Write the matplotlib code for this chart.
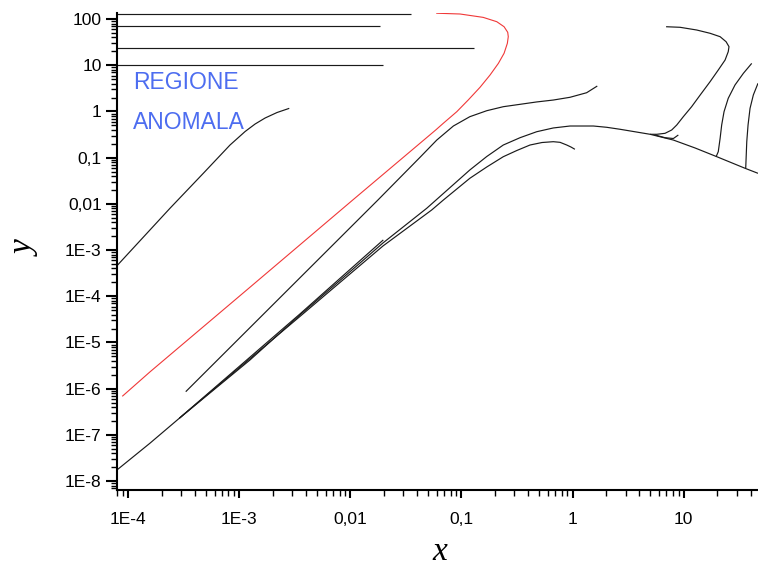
import matplotlib
matplotlib.use("Agg")
import matplotlib.pyplot as plt
from matplotlib.ticker import FixedLocator, FixedFormatter, LogLocator, NullFormatter

# ---------------- data ----------------
# horizontal lines near the top: level and right end
hline_levels = [129, 72, 24, 10]
hline_ends = [0.035, 0.0185, 0.129, 0.0197]
hline_start = 7.9e-5

# red curve
red_x = [8.93e-5, 1.57e-4, 1.25e-3, 0.0105, 0.0587, 0.0687, 0.0908, 0.115, 0.147,
         0.181, 0.215, 0.242, 0.259, 0.264, 0.261, 0.242, 0.208, 0.157, 0.0971, 0.060]
red_y = [6.95e-7, 2.30e-6, 1.57e-4, 0.0121, 0.398, 0.556, 0.99, 1.77, 3.34,
         6.17, 11.0, 18.2, 29.9, 41.6, 51.8, 68.4, 87.9, 109, 129, 134]

# upper-left curve
c3_x = [7.9e-5, 2.38e-4, 4.75e-4, 8.26e-4, 1.13e-3, 1.39e-3, 1.71e-3, 2.19e-3, 2.82e-3]
c3_y = [4.53e-4, 8.03e-3, 0.0459, 0.188, 0.369, 0.536, 0.723, 0.951, 1.17]

# middle curve
c4_x = [3.30e-4, 0.0177, 0.0424, 0.060, 0.0846, 0.119, 0.169, 0.238, 0.337,
        0.476, 0.671, 0.949, 1.34, 1.67]
c4_y = [8.6e-7, 0.0121, 0.102, 0.241, 0.485, 0.772, 1.04, 1.27, 1.43,
        1.61, 1.77, 2.03, 2.55, 3.56]

# main (long) curve
main_x = [7.94e-5, 1.57e-4, 2.89e-4, 1.25e-3, 3.52e-3, 9.93e-3, 0.0197, 0.0487,
          0.119, 0.169, 0.238, 0.337, 0.476, 0.671, 0.949, 1.54, 2.03,
          2.68, 4.99, 8.08, 12.7, 19.9, 35.7, 46.7]
main_y = [1.74e-8, 6.58e-8, 2.29e-7, 4.18e-6, 3.94e-5, 3.40e-4, 1.43e-3, 8.03e-3,
          0.0542, 0.106, 0.188, 0.271, 0.365, 0.44, 0.485, 0.485, 0.455,
          0.412, 0.321, 0.241, 0.162, 0.105, 0.059, 0.0459]

# lower curve (ends near x=1)
low_x = [2.89e-4, 3.52e-3, 0.0197, 0.054, 0.0687, 0.119, 0.169, 0.238, 0.315,
         0.414, 0.531, 0.671, 0.772, 0.887, 0.969, 1.05]
low_y = [2.29e-7, 3.66e-5, 1.23e-3, 7.38e-3, 0.0121, 0.0358, 0.0629, 0.105, 0.143,
         0.188, 0.213, 0.222, 0.215, 0.188, 0.17, 0.152]

# short curve inside the bundle
short_x = [2.89e-4, 3.52e-3, 0.0198]
short_y = [2.29e-7, 4.14e-5, 1.66e-3]

# right-hand loop curve
loop_x = [6.95, 9.28, 13.1, 17.3, 21.3, 24.1, 25.6, 25.2, 23.6, 20.5, 17.3,
          14.1, 11.8, 9.93, 8.67, 7.81, 6.80, 5.73, 4.99]
loop_y = [68.4, 66.5, 58.1, 49.3, 41.6, 32.4, 25.3, 19.7, 13.0, 7.91, 4.42,
          2.28, 1.27, 0.771, 0.51, 0.398, 0.337, 0.321, 0.321]

# small hook
hook_x = [5.53, 6.80, 8.08, 8.96]
hook_y = [0.31, 0.271, 0.26, 0.31]

# two descending curves at the far right
rb_x = [41.0, 34.5, 29.0, 25.2, 23.1, 22.0, 21.3, 20.5, 19.6]
rb_y = [11.0, 6.71, 3.75, 1.93, 0.99, 0.51, 0.263, 0.135, 0.105]
rc_x = [46.7, 42.4, 39.6, 38.0, 37.0, 36.5, 36.2]
rc_y = [4.08, 2.28, 1.17, 0.51, 0.222, 0.097, 0.059]

# ticks
xtick_vals = [1e-4, 1e-3, 1e-2, 1e-1, 1, 10]
xtick_labels = ["1E-4", "1E-3", "0,01", "0,1", "1", "10"]
ytick_vals = [1e-8, 1e-7, 1e-6, 1e-5, 1e-4, 1e-3, 1e-2, 1e-1, 1, 10, 100]
ytick_labels = ["1E-8", "1E-7", "1E-6", "1E-5", "1E-4", "1E-3", "0,01", "0,1", "1", "10", "100"]

x_limits = (7.94e-5, 46.7)
y_limits = (6.4e-9, 139)

# ---------------- drawing ----------------
plt.rcParams['font.family'] = ['Liberation Sans', 'DejaVu Sans']

fig = plt.figure(figsize=(7.58, 5.67), dpi=100)
ax = fig.add_axes([117 / 758, 1 - 490 / 567, 641 / 758, 477.5 / 567])
ax.set_xscale('log')
ax.set_yscale('log')
ax.set_xlim(*x_limits)
ax.set_ylim(*y_limits)

blk = dict(color='#1a1a1a', lw=0.85, solid_capstyle='butt', solid_joinstyle='round')
for lvl, end in zip(hline_levels, hline_ends):
    ax.plot([hline_start, end], [lvl, lvl], **blk)
ax.plot(red_x, red_y, color='#f03838', lw=0.8, solid_joinstyle='round')
ax.plot(c3_x, c3_y, **blk)
ax.plot(c4_x, c4_y, **blk)
ax.plot(main_x, main_y, **blk)
ax.plot(low_x, low_y, **blk)
ax.plot(short_x, short_y, **blk)
ax.plot(loop_x, loop_y, **blk)
ax.plot(hook_x, hook_y, **blk)
ax.plot(rb_x, rb_y, **blk)
ax.plot(rc_x, rc_y, **blk)

for s in ('top', 'right'):
    ax.spines[s].set_visible(False)
for s in ('left', 'bottom'):
    ax.spines[s].set_linewidth(1.5)

ax.xaxis.set_major_locator(FixedLocator(xtick_vals))
ax.xaxis.set_major_formatter(FixedFormatter(xtick_labels))
ax.yaxis.set_major_locator(FixedLocator(ytick_vals))
ax.yaxis.set_major_formatter(FixedFormatter(ytick_labels))
ax.xaxis.set_minor_locator(LogLocator(base=10, subs=range(2, 10), numticks=50))
ax.yaxis.set_minor_locator(LogLocator(base=10, subs=range(2, 10), numticks=50))
ax.xaxis.set_minor_formatter(NullFormatter())
ax.yaxis.set_minor_formatter(NullFormatter())

ax.tick_params(axis='y', which='major', direction='out', length=8, width=1.5, labelsize=12.5, pad=3)
ax.tick_params(axis='y', which='minor', direction='out', length=4, width=1.0)
ax.tick_params(axis='x', which='major', direction='out', length=6, width=1.5, labelsize=12.5, pad=10)
ax.tick_params(axis='x', which='minor', direction='out', length=4, width=1.0)

ax.text(0.025, 0.839, "REGIONE", transform=ax.transAxes, color='#4d6df0',
        fontsize=16.5, ha='left', va='baseline')
ax.text(0.025, 0.755, "ANOMALA", transform=ax.transAxes, color='#4d6df0',
        fontsize=16.5, ha='left', va='baseline')

fig.text(440 / 758, 1 - 560 / 567, "x", family='Liberation Serif', style='italic',
         fontsize=24, ha='center', va='baseline')
fig.text(26 / 758, 1 - 249 / 567, "y", family='Liberation Serif', style='italic',
         fontsize=24, ha='center', va='center', rotation=90)

fig.savefig("out.png", dpi=100)
